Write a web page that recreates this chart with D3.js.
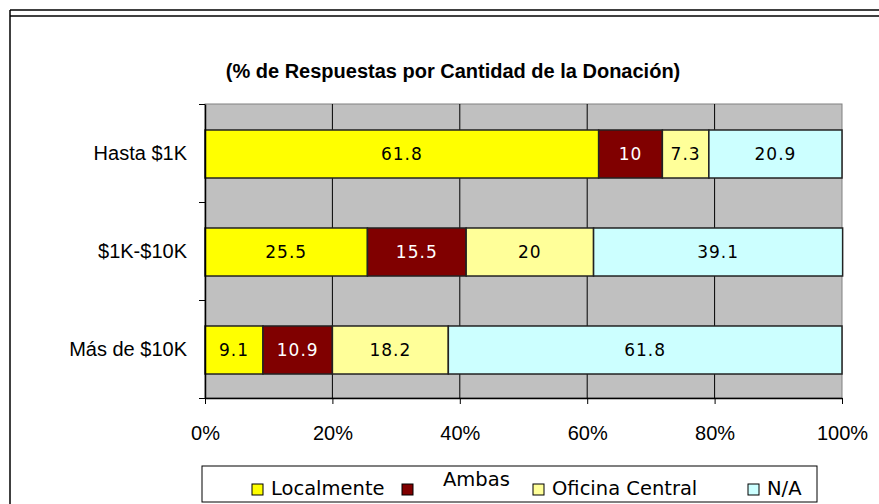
<!DOCTYPE html>
<html>
<head>
<meta charset="utf-8">
<script src="https://cdn.jsdelivr.net/npm/d3@7"></script>
<style>
  body { margin: 0; background: #fff; }
  text { font-family: "Liberation Sans", Arial, sans-serif; fill: #000; }
</style>
</head>
<body>
<script>
// chart values
var categories = ["Hasta $1K", "$1K-$10K", "Más de $10K"];
var seriesNames = ["Localmente", "Ambas", "Oficina Central", "N/A"];
var localmente = [61.8, 25.5, 9.1];
var ambas = [10, 15.5, 10.9];
var oficina = [7.3, 20, 18.2];
var na = [20.9, 39.1, 61.8];
var xTicks = [0, 20, 40, 60, 80, 100];
var title = "(% de Respuestas por Cantidad de la Donación)";

var w = 879, h = 504;
var plotL = 205, plotR = 842, plotT = 104, plotB = 398;
var colors = ["#FFFF00", "#800000", "#FFFF99", "#CCFFFF"];
var labelColors = ["#000", "#fff", "#000", "#000"];

// table for d3.stack
var rows = categories.map(function(c, i) {
  return { cat: c, "Localmente": localmente[i], "Ambas": ambas[i],
           "Oficina Central": oficina[i], "N/A": na[i] };
});
var stacked = d3.stack().keys(seriesNames)(rows);

var svg = d3.select("body").append("svg")
            .attr("width", w)
            .attr("height", h);

// outer frame (double line on top, single on the left)
svg.append("line").attr("x1", 10).attr("x2", w).attr("y1", 10).attr("y2", 10)
   .attr("stroke", "#000").attr("stroke-width", 1.5);
svg.append("line").attr("x1", 10).attr("x2", w).attr("y1", 16).attr("y2", 16)
   .attr("stroke", "#000").attr("stroke-width", 1.5);
svg.append("line").attr("x1", 10).attr("x2", 10).attr("y1", 10).attr("y2", h)
   .attr("stroke", "#000").attr("stroke-width", 1.5);

// title
svg.append("text")
   .attr("x", 453).attr("y", 78)
   .attr("text-anchor", "middle")
   .attr("font-size", "20px")
   .attr("font-weight", "bold")
   .text(title);

var xScale = d3.scaleLinear().domain([0, 100]).range([plotL, plotR]);
var yScale = d3.scaleBand().domain(categories).range([plotT + 1, plotB + 1])
               .paddingInner(0.51).paddingOuter(0.255);
var yEdges = d3.scaleLinear().domain([0, categories.length]).range([plotT, plotB]);

// plot background
svg.append("rect")
   .attr("x", plotL).attr("y", plotT)
   .attr("width", plotR - plotL).attr("height", plotB - plotT)
   .attr("fill", "#C0C0C0")
   .attr("stroke", "#808080").attr("stroke-width", 1);

// vertical grid
svg.append("g")
   .selectAll("line")
   .data(xTicks.slice(1, -1))
   .enter().append("line")
   .attr("x1", function(d) { return xScale(d); })
   .attr("x2", function(d) { return xScale(d); })
   .attr("y1", plotT).attr("y2", plotB)
   .attr("stroke", "#000").attr("stroke-width", 1);

// bars
var layer = svg.selectAll("g.layer")
   .data(stacked)
   .enter().append("g")
   .attr("class", "layer")
   .attr("fill", function(d, i) { return colors[i]; });

layer.selectAll("rect")
   .data(function(d) { return d; })
   .enter().append("rect")
   .attr("x", function(d) { return xScale(d[0]); })
   .attr("y", function(d) { return yScale(d.data.cat); })
   .attr("width", function(d) { return xScale(d[1]) - xScale(d[0]); })
   .attr("height", yScale.bandwidth())
   .attr("stroke", "#222").attr("stroke-width", 1.5);

// value labels
layer.selectAll("text")
   .data(function(d, i) { return d.map(function(p) { p.si = i; return p; }); })
   .enter().append("text")
   .attr("x", function(d) { return (xScale(d[0]) + xScale(d[1])) / 2; })
   .attr("y", function(d) { return yScale(d.data.cat) + yScale.bandwidth() / 2; })
   .attr("dy", "0.36em")
   .attr("text-anchor", "middle")
   .style("font-family", "'DejaVu Sans', Verdana, sans-serif")
   .style("font-size", "17px")
   .style("letter-spacing", "1px")
   .style("fill", function(d) { return labelColors[d.si]; })
   .text(function(d) { return +(d[1] - d[0]).toFixed(1); });

// y axis: ticks at band edges + category labels
var yAxis = d3.axisLeft(yEdges).tickValues(d3.range(categories.length + 1))
              .tickFormat("").tickSize(6).tickSizeOuter(0);
svg.append("g")
   .attr("transform", "translate(" + plotL + ",0)")
   .call(yAxis)
   .call(function(g) {
     g.selectAll("line").attr("stroke", "#000");
     g.select(".domain").attr("stroke", "#000").attr("stroke-width", 1.5);
   });

var catAxis = d3.axisLeft(yScale).tickSize(0).tickPadding(18);
svg.append("g")
   .attr("transform", "translate(" + plotL + ",0)")
   .call(catAxis)
   .call(function(g) {
     g.select(".domain").remove();
     g.selectAll("text")
      .attr("font-family", "'Liberation Sans', Arial, sans-serif")
      .attr("font-size", "20px")
      .attr("fill", "#000");
   });

// x axis
var xAxis = d3.axisBottom(xScale).tickValues(xTicks)
              .tickFormat(function(d) { return d + "%"; })
              .tickSize(6).tickSizeOuter(0).tickPadding(22);
svg.append("g")
   .attr("transform", "translate(0," + plotB + ")")
   .call(xAxis)
   .call(function(g) {
     g.select(".domain").attr("stroke", "#000").attr("stroke-width", 1.5);
     g.selectAll("line").attr("stroke", "#000");
     g.selectAll("text")
      .attr("font-family", "'Liberation Sans', Arial, sans-serif")
      .attr("font-size", "20px")
      .attr("fill", "#000");
   });

// legend
var legendX = [252, 402, 533, 748];
var legendTextX = [271, 443, 552, 767];
var legendTextY = [495, 486, 495, 495];
var legend = svg.append("g");
legend.append("rect")
   .attr("x", 202).attr("y", 466)
   .attr("width", 615).attr("height", 36)
   .attr("fill", "#fff").attr("stroke", "#000").attr("stroke-width", 1);

var item = legend.selectAll("g.item")
   .data(seriesNames)
   .enter().append("g")
   .attr("class", "item");
item.append("rect")
   .attr("x", function(d, i) { return legendX[i]; })
   .attr("y", 484)
   .attr("width", 11).attr("height", 11)
   .attr("fill", function(d, i) { return colors[i]; })
   .attr("stroke", "#000").attr("stroke-width", 1);
item.append("text")
   .attr("x", function(d, i) { return legendTextX[i]; })
   .attr("y", function(d, i) { return legendTextY[i]; })
   .style("font-family", "'DejaVu Sans', Verdana, sans-serif")
   .style("font-size", "19.5px")
   .text(function(d) { return d; });
</script>
</body>
</html>
